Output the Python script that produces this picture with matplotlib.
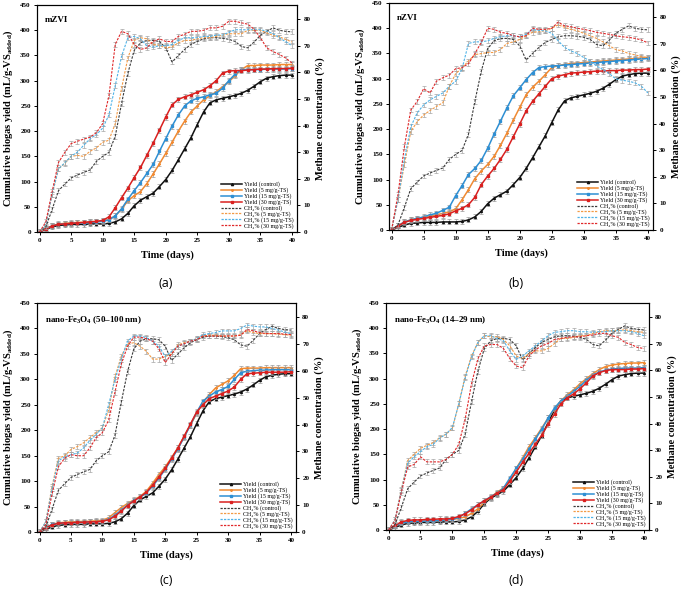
import matplotlib
matplotlib.use("Agg")
import matplotlib.pyplot as plt
from matplotlib.lines import Line2D

plt.rcParams['font.family'] = ['Liberation Serif', 'DejaVu Serif']
plt.rcParams['mathtext.fontset'] = 'custom'
plt.rcParams['mathtext.rm'] = 'Liberation Serif'
plt.rcParams['mathtext.bf'] = 'Liberation Serif:bold'
plt.rcParams['mathtext.it'] = 'Liberation Serif:italic'

days = list(range(41))
doses = ['control', '5 mg/g-TS', '15 mg/g-TS', '30 mg/g-TS']

# control reactor (same in every panel)
yield_ctrl = [0, 5, 10, 13, 14, 15, 15, 15, 16, 16, 16, 17, 20, 26, 37, 52, 63, 70, 77, 90,
              104, 122, 143, 165, 187, 213, 238, 256, 262, 265, 268, 271, 275, 281, 289, 298,
              305, 308, 310, 311, 311]
ch4_ctrl = [0, 1.9, 8.5, 15.5, 18.0, 20.3, 21.4, 22.4, 23.3, 26.5, 28.4, 29.9, 36.0, 48.3, 59.7,
            68.2, 71.1, 72.0, 72.0, 71.6, 69.2, 63.9, 66.3, 68.6, 70.5, 71.6, 72.6, 73.0, 73.0,
            72.8, 72.4, 71.6, 69.7, 69.2, 71.4, 73.9, 75.4, 76.7, 75.8, 75.4, 75.2]

# (a) mZVI
yield_a5 = [0, 6, 12, 16, 17, 18, 19, 19, 20, 21, 22, 25, 32, 45, 62, 72, 80, 96, 115, 135, 156,
            178, 200, 220, 238, 250, 262, 270, 278, 288, 298, 310, 322, 330, 330, 331, 331, 331,
            332, 332, 332]
yield_a15 = [0, 6, 12, 15, 16, 17, 18, 18, 19, 20, 21, 24, 32, 46, 65, 82, 98, 116, 134, 160, 185,
             210, 232, 250, 260, 265, 268, 272, 275, 285, 300, 313, 322, 322, 322, 322, 323, 323,
             323, 323, 324]
yield_a30 = [0, 6, 12, 15, 16, 17, 18, 19, 20, 21, 23, 30, 48, 68, 87, 108, 128, 152, 176, 202,
             228, 252, 263, 268, 272, 277, 282, 290, 300, 315, 319, 320, 320, 321, 322, 323, 323,
             324, 324, 324, 325]
ch4_a5 = [0, 2.8, 14.2, 23.7, 25.8, 28.4, 28.8, 28.4, 30.3, 31.6, 33.7, 34.5, 40.7, 54.0, 65.4,
          72.0, 73.0, 72.6, 70.5, 70.1, 69.2, 69.5, 71.1, 72.0, 72.0, 72.6, 73.0, 73.0, 73.5, 73.9,
          74.5, 74.5, 74.5, 75.8, 75.8, 75.8, 74.8, 73.9, 73.3, 72.4, 71.4]
ch4_a15 = [0, 2.8, 14.2, 23.7, 26.0, 28.5, 30.0, 32.6, 35.0, 36.6, 39.0, 44.0, 55.0, 66.0, 73.0,
           73.5, 72.6, 70.0, 69.5, 70.0, 70.0, 70.5, 72.0, 73.0, 73.0, 73.0, 73.5, 73.5, 74.0, 74.0,
           75.0, 76.0, 76.0, 76.0, 76.0, 76.0, 75.5, 74.5, 73.0, 71.5, 70.0]
ch4_a30 = [0, 3.8, 15.2, 26.1, 29.9, 33.2, 34.1, 34.9, 35.6, 37.3, 40.7, 51.2, 70.5, 75.4, 74.5,
           70.5, 68.6, 69.2, 71.6, 72.6, 71.6, 71.6, 73.5, 74.3, 75.4, 75.4, 75.8, 76.7, 76.7, 77.3,
           79.2, 79.2, 78.6, 78.1, 76.2, 73.0, 69.2, 67.8, 66.7, 65.4, 63.5]

# (b) nZVI
yield_b5 = [0, 8, 16, 20, 23, 25, 27, 30, 33, 36, 42, 60, 80, 102, 117, 130, 146, 168, 192, 218,
            243, 268, 283, 295, 308, 322, 326, 328, 330, 331, 332, 333, 334, 335, 336, 337, 338,
            339, 340, 341, 342]
yield_b15 = [0, 8, 16, 20, 23, 26, 30, 33, 39, 45, 68, 88, 110, 122, 138, 162, 190, 216, 242, 266,
             282, 298, 312, 322, 324, 325, 326, 327, 328, 329, 330, 331, 332, 333, 334, 335, 336,
             337, 338, 339, 340]
yield_b30 = [0, 8, 15, 19, 21, 23, 25, 27, 29, 32, 38, 43, 50, 65, 90, 107, 122, 140, 160, 185,
             210, 236, 255, 270, 285, 300, 305, 308, 311, 312, 313, 314, 315, 315, 316, 316, 317,
             317, 318, 318, 319]
ch4_b5 = [0, 11.4, 24.6, 37.0, 40.7, 43.2, 44.9, 46.4, 47.8, 54.0, 58.7, 61.0, 63.5, 65.9, 66.3,
          66.7, 66.7, 67.8, 70.1, 70.7, 71.6, 73.0, 74.3, 74.5, 74.9, 75.8, 77.1, 76.2, 75.4, 74.9,
          73.9, 73.0, 72.0, 70.7, 69.2, 67.8, 67.3, 66.3, 65.8, 65.2, 64.8]
ch4_b15 = [0, 11.4, 26.5, 38.8, 44.0, 47.0, 48.9, 50.2, 51.5, 54.0, 55.9, 60.6, 70.1, 70.7, 70.7,
           71.1, 72.0, 72.6, 73.0, 73.0, 72.6, 73.5, 75.4, 74.9, 74.9, 73.9, 71.1, 68.6, 67.3, 66.3,
           64.8, 63.5, 61.6, 60.3, 58.7, 56.8, 56.3, 55.9, 55.3, 54.0, 51.5]
ch4_b30 = [0, 13.3, 31.3, 45.1, 48.3, 53.1, 51.5, 55.9, 57.2, 58.2, 60.6, 61.0, 62.5, 66.3, 70.5,
           75.8, 75.4, 74.3, 73.9, 73.0, 72.6, 73.0, 75.8, 75.4, 75.4, 75.8, 78.1, 76.7, 76.4, 75.8,
           75.4, 74.9, 74.3, 73.9, 73.5, 73.0, 72.6, 72.4, 72.0, 71.4, 70.3]

# (c) nano-Fe3O4 (50-100 nm)
yield_c5 = [0, 8, 15, 18, 19, 20, 20, 21, 21, 22, 23, 28, 38, 48, 56, 63, 70, 80, 96, 113, 128,
            146, 165, 188, 210, 233, 255, 270, 283, 290, 297, 308, 321, 322, 322, 322, 323, 323,
            323, 323, 323]
yield_c15 = [0, 8, 15, 17, 18, 18, 19, 19, 20, 20, 21, 25, 33, 43, 53, 62, 68, 77, 90, 106, 123,
             143, 163, 186, 210, 235, 257, 267, 275, 280, 286, 300, 313, 316, 317, 318, 318, 319,
             319, 319, 319]
yield_c30 = [0, 8, 14, 17, 18, 18, 19, 19, 20, 20, 21, 24, 31, 41, 52, 61, 69, 78, 92, 108, 125,
             145, 165, 188, 212, 236, 250, 262, 267, 272, 277, 285, 300, 311, 312, 313, 314, 314,
             314, 314, 315]
ch4_c5 = [0, 3.8, 17.1, 27.5, 28.4, 30.7, 31.8, 33.2, 35.1, 37.0, 38.8, 45.5, 57.8, 65.4, 70.1,
          70.5, 69.2, 67.3, 64.4, 64.4, 65.4, 66.3, 69.7, 70.5, 71.1, 72.0, 73.0, 73.3, 73.3, 73.0,
          73.0, 73.0, 73.5, 74.9, 74.3, 73.9, 73.9, 73.9, 73.7, 73.5, 73.3]
ch4_c15 = [0, 3.8, 16.1, 26.5, 28.0, 28.8, 29.4, 31.3, 34.1, 36.4, 38.8, 47.4, 56.8, 64.4, 71.1,
           73.0, 73.0, 72.4, 71.1, 69.2, 65.4, 67.3, 69.2, 70.1, 71.1, 72.0, 73.5, 73.9, 74.3, 74.9,
           74.9, 74.9, 75.8, 77.1, 76.7, 76.4, 76.4, 75.8, 75.2, 74.5, 73.9]
ch4_c30 = [0, 2.8, 14.2, 24.3, 27.5, 28.8, 28.4, 28.4, 31.3, 35.1, 37.0, 41.7, 52.1, 62.5, 69.2,
           72.6, 72.6, 72.0, 71.1, 68.2, 63.1, 66.3, 69.2, 70.1, 71.1, 71.6, 73.0, 73.0, 73.0, 73.0,
           73.0, 73.0, 73.3, 75.4, 74.9, 74.3, 73.9, 73.9, 73.9, 73.7, 73.5]

# (d) nano-Fe3O4 (14-29 nm)
yield_d5 = [0, 8, 14, 16, 17, 17, 18, 18, 19, 20, 21, 23, 26, 33, 42, 55, 65, 75, 83, 100, 122,
            143, 165, 183, 202, 222, 240, 256, 268, 278, 290, 300, 310, 318, 324, 327, 329, 330,
            331, 331, 332]
yield_d15 = [0, 8, 14, 16, 17, 17, 18, 18, 19, 20, 21, 25, 33, 42, 50, 58, 66, 73, 83, 103, 122,
             140, 160, 180, 200, 222, 242, 256, 265, 275, 285, 297, 307, 313, 317, 319, 320, 321,
             321, 321, 322]
yield_d30 = [0, 9, 16, 19, 20, 20, 21, 21, 22, 22, 23, 27, 32, 40, 50, 58, 65, 73, 80, 97, 115,
             134, 152, 170, 188, 210, 230, 250, 262, 270, 280, 292, 305, 312, 316, 318, 318, 318,
             319, 319, 320]
ch4_d5 = [0, 3.8, 15.2, 26.1, 28.4, 30.7, 31.8, 32.8, 34.7, 36.0, 38.3, 47.4, 57.8, 65.4, 70.5,
          73.0, 72.6, 72.6, 71.6, 69.2, 65.4, 64.4, 66.3, 67.3, 67.3, 68.2, 70.1, 72.0, 72.0, 72.4,
          73.0, 73.0, 73.9, 74.5, 74.9, 74.9, 75.0, 75.2, 74.9, 74.5, 74.3]
ch4_d15 = [0, 3.8, 14.8, 25.2, 27.5, 29.4, 31.3, 32.2, 34.5, 36.0, 38.5, 47.4, 57.2, 65.0, 70.5,
           73.0, 73.0, 72.0, 71.1, 67.3, 64.1, 65.4, 67.3, 69.2, 71.1, 73.0, 74.3, 74.5, 74.9, 74.9,
           74.5, 74.5, 74.3, 74.5, 74.5, 74.9, 74.9, 74.9, 74.5, 73.9, 73.0]
ch4_d30 = [0, 3.4, 14.2, 23.7, 24.6, 27.5, 25.6, 25.6, 25.6, 26.5, 28.4, 32.2, 41.7, 55.0, 64.4,
           69.2, 69.7, 69.7, 68.2, 64.4, 61.6, 61.0, 65.4, 67.7, 69.2, 70.1, 71.6, 72.0, 72.4, 72.6,
           72.6, 73.0, 73.3, 73.9, 73.9, 73.0, 72.4, 70.5, 69.7, 68.6, 68.2]

panels = [
    ('mZVI', '(a)', [yield_ctrl, yield_a5, yield_a15, yield_a30], [ch4_ctrl, ch4_a5, ch4_a15, ch4_a30]),
    ('nZVI', '(b)', [yield_ctrl, yield_b5, yield_b15, yield_b30], [ch4_ctrl, ch4_b5, ch4_b15, ch4_b30]),
    (r'nano-Fe$_{\mathbf{3}}$O$_{\mathbf{4}}$ (50–100 nm)', '(c)',
     [yield_ctrl, yield_c5, yield_c15, yield_c30], [ch4_ctrl, ch4_c5, ch4_c15, ch4_c30]),
    (r'nano-Fe$_{\mathbf{3}}$O$_{\mathbf{4}}$ (14–29 nm)', '(d)',
     [yield_ctrl, yield_d5, yield_d15, yield_d30], [ch4_ctrl, ch4_d5, ch4_d15, ch4_d30]),
]

yield_colors = ['#111111', '#F08A32', '#2E8FD3', '#D9201F']
ch4_colors = ['#3a3a3a', '#F39A45', '#4FB3E8', '#E0282A']
markers = ['^', '*', 's', 's']
dash = (0, (2.2, 1.2))

boxes = [
    [37 / 685, 1 - 232 / 594, 260 / 685, 227 / 594],
    [389 / 685, 1 - 230 / 594, 264 / 685, 227 / 594],
    [37 / 685, 1 - 532 / 594, 259 / 685, 229 / 594],
    [386 / 685, 1 - 530 / 594, 263 / 685, 227 / 594],
]
captions = [(0.242, 0.512), (0.753, 0.512), (0.242, 0.012), (0.753, 0.012)]

fig = plt.figure(figsize=(6.85, 5.94), dpi=100)

for (title, cap, ylds, ch4s), box, cpos in zip(panels, boxes, captions):
    ax = fig.add_axes(box)
    ax2 = ax.twinx()
    handles, labels = [], []
    for i in range(4):
        ax.errorbar(days, ylds[i], yerr=5, color=yield_colors[i], lw=1.1,
                    marker=markers[i], ms=1.4, ecolor='#9a9a9a', elinewidth=0.5,
                    capsize=1.2, capthick=0.5, zorder=3 + i)
        handles.append(Line2D([], [], color=yield_colors[i], lw=1.1, marker=markers[i], ms=1.6))
        labels.append('Yield (%s)' % doses[i])
    for i in range(4):
        ax2.errorbar(days, ch4s[i], yerr=0.9, color=ch4_colors[i], lw=0.8, ls=dash,
                     ecolor='#a5a5a5', elinewidth=0.5, capsize=1.2, capthick=0.5)
        handles.append(Line2D([], [], color=ch4_colors[i], lw=0.9, ls=(0, (1.8, 1.0))))
        labels.append('CH₄%% (%s)' % doses[i])

    ax.set_xlim(-0.4, 40.8)
    ax.set_ylim(0, 450)
    ax2.set_ylim(0, 85.3)
    ax.set_xticks(range(0, 41, 5))
    ax.set_yticks(range(0, 451, 50))
    ax2.set_yticks(range(0, 81, 10))
    for a in (ax, ax2):
        a.tick_params(direction='out', length=2.5, width=0.7, labelsize=5, pad=2)
        for lab in a.get_xticklabels() + a.get_yticklabels():
            lab.set_fontweight('bold')
        for s in a.spines.values():
            s.set_linewidth(0.8)
    ax.set_xlabel('Time (days)', fontsize=7.5, fontweight='bold', labelpad=5)
    ax.set_ylabel(r'Cumulative biogas yield (mL/g-VS$_{\mathbf{added}}$)', fontsize=7.5,
                  fontweight='bold', labelpad=4)
    ax2.set_ylabel('Methane concentration (%)', fontsize=7.5, fontweight='bold', labelpad=4)
    ax.text(0.03, 0.95, title, transform=ax.transAxes, fontsize=6.5, fontweight='bold',
            va='top', ha='left')
    ax2.legend(handles, labels, loc='lower right', fontsize=4.3, frameon=False,
               handlelength=3.6, handletextpad=0.3, labelspacing=0.02, borderaxespad=0.15)
    fig.text(cpos[0], cpos[1], cap, fontsize=9, family=['Open Sans', 'DejaVu Sans'],
             ha='center', va='bottom')

fig.savefig('out.png', dpi=100)
